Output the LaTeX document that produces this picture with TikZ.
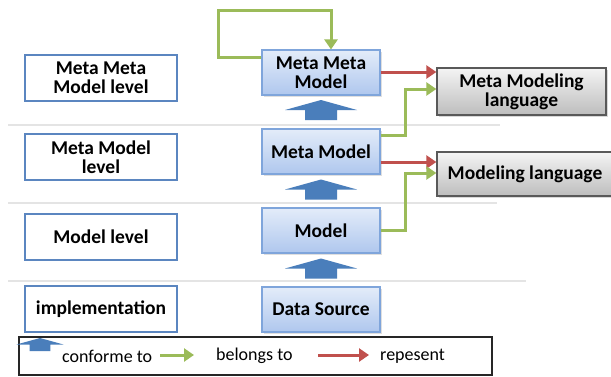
\documentclass[tikz,border=0pt]{standalone}
\usepackage{fontspec}
\setmainfont{Carlito}
\usetikzlibrary{arrows.meta,shadows}
\definecolor{lvlborder}{HTML}{5B86C0}
\definecolor{boxtop}{HTML}{E3ECF9}
\definecolor{boxbot}{HTML}{AFC7EE}
\definecolor{boxborder}{HTML}{7FA5DB}
\definecolor{conf}{HTML}{4A7EBB}
\definecolor{belong}{HTML}{9BBB59}
\definecolor{repr}{HTML}{C0504D}
\definecolor{graytop}{HTML}{F4F4F4}
\definecolor{graybot}{HTML}{BDBDBD}
\definecolor{sepline}{HTML}{E4E4E4}
\tikzset{
  boxfont/.style={font=\bfseries\fontsize{19.5}{19}\selectfont},
  lvl/.style={boxfont, draw=lvlborder, line width=1.3pt, fill=white, minimum width=152pt, minimum height=46pt, align=center, inner sep=0pt},
  mid/.style={boxfont, draw=boxborder, line width=1.1pt, top color=boxtop, bottom color=boxbot, minimum width=118pt, minimum height=45pt, align=center, inner sep=0pt, drop shadow={opacity=0.25, shadow xshift=1.5pt, shadow yshift=-1.5pt}},
  lang/.style={boxfont, draw=black!65, line width=1.3pt, top color=graytop, bottom color=graybot, align=center, inner sep=0pt, drop shadow={opacity=0.3, shadow xshift=1.5pt, shadow yshift=-1.5pt}},
  belongs/.style={draw=belong, line width=3pt, -{Triangle[length=10pt,width=13pt]}},
  represents/.style={draw=repr, line width=3pt, -{Triangle[length=10pt,width=13pt]}},
  sep/.style={draw=sepline, line width=1.5pt},
  legtext/.style={font=\fontsize{18}{18}\selectfont, anchor=west, inner sep=0pt},
  fatup/.pic={\fill[conf] (-36pt,0pt) -- (0pt,10pt) -- (36pt,0pt) -- (16pt,0pt) -- (16pt,-10pt) -- (-16pt,-10pt) -- (-16pt,0pt) -- cycle;}
}
\begin{document}
\begin{tikzpicture}[x=1pt,y=1pt]
\useasboundingbox[fill=white] (0,0) rectangle (611,-376);
% separators
\draw[sep] (8,-125) -- (500,-125);
\draw[sep] (8,-203) -- (497,-203);
\draw[sep] (8,-281) -- (526,-281);
% level boxes
\node[lvl] (l1) at (101,-78) {Meta Meta\\Model level};
\node[lvl] (l2) at (101,-157) {Meta Model\\level};
\node[lvl] (l3) at (101,-237) {Model level};
\node[lvl] (l4) at (101,-309) {implementation};
% middle boxes
\node[mid] (mmm) at (321,-72.5) {Meta Meta\\Model};
\node[mid] (mm) at (321,-151.5) {Meta Model};
\node[mid] (m) at (321,-230.5) {Model};
\node[mid] (ds) at (321,-309.5) {Data Source};
% language boxes
\node[lang, minimum width=169pt, minimum height=47pt] (mml) at (521.5,-91.5) {Meta Modeling\\language};
\node[lang, minimum width=176pt, minimum height=44pt] (ml) at (525,-174) {Modeling language};
% conform arrows
\pic at (321,-110) {fatup};
\pic at (321,-189.5) {fatup};
\pic at (321,-268.5) {fatup};
% self loop
\draw[belongs] (mmm.west |- 0,-57) -- (218,-57) -- (218,-10) -- (331,-10) -- (mmm.north -| 331,0);
% represents
\draw[represents] (mmm.east |- 0,-72) -- (mml.west |- 0,-72);
\draw[represents] (mm.east |- 0,-162) -- (ml.west |- 0,-162);
% belongs
\draw[belongs] (mm.east |- 0,-135) -- (405,-135) -- (405,-89) -- (mml.west |- 0,-89);
\draw[belongs] (m.east |- 0,-230) -- (405,-230) -- (405,-173) -- (ml.west |- 0,-173);
% legend
\node[draw=black!85, line width=1.3pt, minimum width=473pt, minimum height=38pt, inner sep=0pt] (legend) at (255.5,-356) {};
\pic[scale=0.65] at (40,-344.5) {fatup};
\node[legtext] (t1) at (62,-356) {conforme to};
\node[legtext] (t2) at (216,-356) {belongs to};
\node[legtext] (t3) at (380,-356) {repesent};
\coordinate (g1) at (160,-355);
\coordinate (g2) at (194,-355);
\coordinate (r1) at (318,-355);
\coordinate (r2) at (369,-355);
\draw[belongs] (g1) -- (g2);
\draw[represents] (r1) -- (r2);
\end{tikzpicture}
\end{document}
